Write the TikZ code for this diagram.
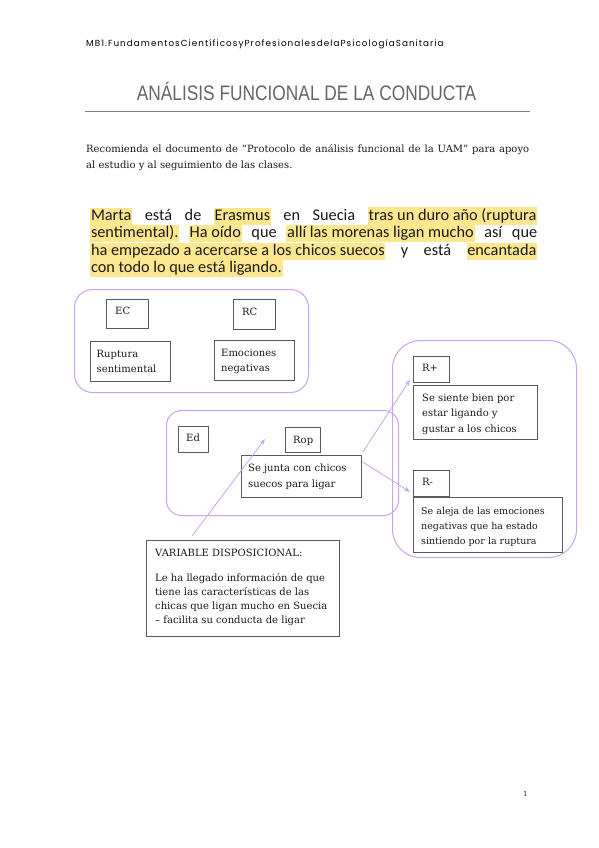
\documentclass[tikz,border=0pt]{standalone}
\usepackage{fontspec}
\setmainfont{DejaVu Serif}
\newfontfamily\hdrfont[LetterSpace=12]{Poppins}
\newfontfamily\titfont{Liberation Sans}
\newfontfamily\calfont{Carlito}
\newfontfamily\slab{DejaVu Serif}
\usetikzlibrary{arrows.meta}
\definecolor{vio}{HTML}{C9A3F2}
\definecolor{boxc}{HTML}{5A5A5A}
\definecolor{hly}{HTML}{FCE68E}
\definecolor{txt}{HTML}{1A1A1A}
\definecolor{titc}{HTML}{666666}
\newcommand\hlt[1]{{\setlength{\fboxsep}{0.8pt}\colorbox{hly}{\rule[-4pt]{0pt}{15.5pt}#1}}}
\newcommand\lns[2]{\vtop{\baselineskip=#1pt #2}}
\tikzset{
  grp/.style={draw=vio, line width=1pt, anchor=north west, inner sep=0pt},
  bx/.style={draw=boxc, line width=0.8pt, anchor=north west, inner sep=0pt},
  tx/.style={anchor=base west, inner sep=0pt, text=txt, font={\slab\fontsize{10}{12}\selectfont}},
  para/.style={anchor=base west, inner sep=0pt, text=txt, font={\calfont\fontsize{16.3}{18}\selectfont}},
  arr/.style={draw=vio, line width=0.8pt, -{Stealth[length=6pt,width=4.5pt]}}
}
\begin{document}
\begin{tikzpicture}[x=1pt,y=-1pt]
\useasboundingbox[fill=white] (0,0) rectangle (599,848);
% header
\node[anchor=base west, inner sep=0pt, text=black, font={\hdrfont\fontsize{8.8}{10}\selectfont}] (hdr) at (86,47) {MB1.FundamentosCientíficosyProfesionalesdelaPsicologíaSanitaria};
\node[anchor=base, inner sep=0pt, text=titc, font={\titfont\fontsize{21}{24}\selectfont}, xscale=0.825] (tit) at (306.5,101) {ANÁLISIS FUNCIONAL DE LA CONDUCTA};
\coordinate (rl) at (85,111);
\coordinate (rr) at (530,111);
\draw[draw=gray, line width=0.8pt] (rl) -- (rr);
% recommendation
\node[tx] (rec1) at (86,152) {\makebox[443pt][s]{Recomienda el documento de “Protocolo de análisis funcional de la UAM” para apoyo}};
\node[tx] (rec2) at (86,168) {al estudio y al seguimiento de las clases.};
% highlighted paragraph
\node[para] (p1) at (90,220) {\makebox[447pt][s]{\hlt{Marta} está de \hlt{Erasmus} en Suecia \hlt{tras un duro año (ruptura}}};
\node[para] (p2) at (90,237.5) {\makebox[447pt][s]{\hlt{sentimental).} \hlt{Ha oído} que \hlt{allí las morenas ligan mucho} así que}};
\node[para] (p3) at (90,255) {\makebox[447pt][s]{\hlt{ha empezado a acercarse a los chicos suecos} y está \hlt{encantada}}};
\node[para] (p4) at (90,272.5) {\hlt{con todo lo que está ligando.}};
% groups
\node[grp, minimum width=234pt, minimum height=103pt, rounded corners=18pt] (g1) at (74,289) {};
\node[grp, minimum width=232pt, minimum height=105pt, rounded corners=15pt] (g2) at (166,410) {};
\node[grp, minimum width=184pt, minimum height=217pt, rounded corners=28pt] (g3) at (392,340) {};
% boxes group 1
\node[bx, minimum width=42pt, minimum height=29pt] (ec) at (106,299) {};
\node[tx] (ect) at (115,314) {EC};
\node[bx, minimum width=42pt, minimum height=30pt] (rc) at (233,299) {};
\node[tx] (rct) at (242,315) {RC};
\node[bx, minimum width=80pt, minimum height=40pt] (rup) at (90,341) {};
\node[tx] (rupt) at (96.5,357) {\lns{15}{\hbox{Ruptura}\hbox{sentimental}}};
\node[bx, minimum width=80pt, minimum height=40pt] (emo) at (214,340) {};
\node[tx] (emot) at (221,356) {\lns{15}{\hbox{Emociones}\hbox{negativas}}};
% boxes group 2
\node[bx, minimum width=30pt, minimum height=26pt] (ed) at (178,426) {};
\node[tx] (edt) at (186,441) {Ed};
\node[bx, minimum width=35pt, minimum height=25pt] (rop) at (285,427) {};
\node[tx] (ropt) at (293,443) {Rop};
\node[bx, minimum width=120pt, minimum height=42pt] (junta) at (241,455) {};
\node[tx] (juntat) at (248,471) {\lns{16.5}{\hbox{Se junta con chicos}\hbox{suecos para ligar}}};
% boxes group 3
\node[bx, minimum width=36pt, minimum height=26pt] (rplus) at (413,356) {};
\node[tx] (rplust) at (422,371) {R+};
\node[bx, minimum width=124pt, minimum height=54pt] (siente) at (413,385) {};
\node[tx] (sientet) at (422,401) {\lns{15.5}{\hbox{Se siente bien por}\hbox{estar ligando y}\hbox{gustar a los chicos}}};
\node[bx, minimum width=36pt, minimum height=26pt] (rminus) at (413,470) {};
\node[tx] (rminust) at (422,485) {R-};
\node[bx, minimum width=149pt, minimum height=55pt] (aleja) at (413,497) {};
\node[tx, font={\slab\fontsize{9.5}{12}\selectfont}] (alejat) at (421,514) {\lns{15}{\hbox{Se aleja de las emociones}\hbox{negativas que ha estado}\hbox{sintiendo por la ruptura}}};
% variable disposicional
\node[bx, minimum width=193pt, minimum height=96pt] (vd) at (146,540) {};
\node[tx] (vdh) at (155,556) {VARIABLE DISPOSICIONAL:};
\node[tx] (vdt) at (155,581) {\lns{14.3}{\hbox{Le ha llegado información de que}\hbox{tiene las características de las}\hbox{chicas que ligan mucho en Suecia}\hbox{– facilita su conducta de ligar}}};
% arrows
\coordinate (vdtip) at (265,439);
\draw[arr] ([xshift=46pt,yshift=4pt]vd.north west) -- (vdtip);
\draw[arr] ([xshift=1pt,yshift=3pt]junta.north east) -- ([xshift=-3pt,yshift=3pt]rplus.south west);
\draw[arr] ([xshift=1pt,yshift=-7pt]junta.north east) -- ([xshift=-3pt,yshift=5pt]rminus.south west);
% page number
\node[tx, font={\slab\fontsize{7}{8}\selectfont}] (pg) at (523,796) {1};
\end{tikzpicture}
\end{document}
